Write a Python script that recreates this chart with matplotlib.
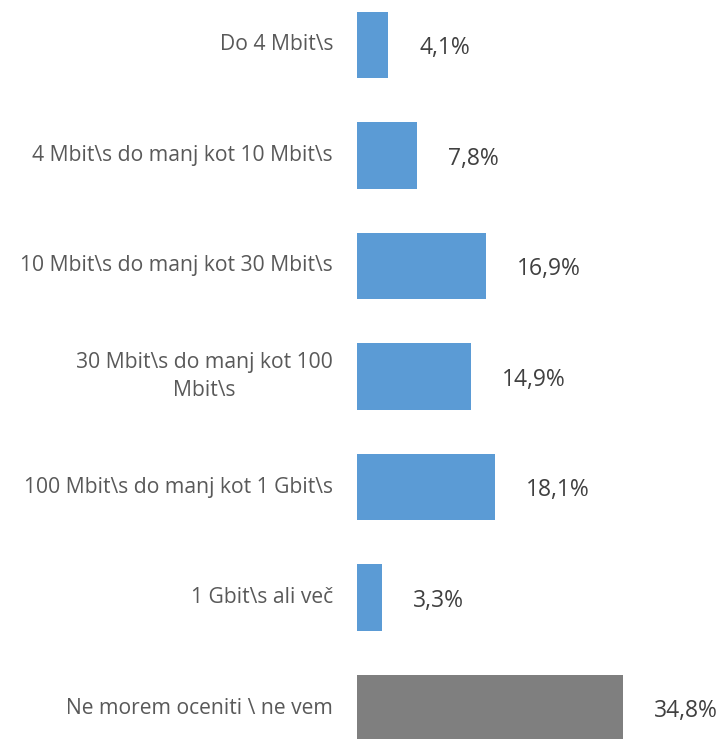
import matplotlib
matplotlib.use('Agg')
from matplotlib import pyplot as plt

categories = [
    'Do 4 Mbit\\s',
    '4 Mbit\\s do manj kot 10 Mbit\\s',
    '10 Mbit\\s do manj kot 30 Mbit\\s',
    '30 Mbit\\s do manj kot 100\nMbit\\s',
    '100 Mbit\\s do manj kot 1 Gbit\\s',
    '1 Gbit\\s ali več',
    'Ne morem oceniti \\ ne vem',
]
values = [4.1, 7.8, 16.9, 14.9, 18.1, 3.3, 34.8]
value_labels = ['4,1%', '7,8%', '16,9%', '14,9%', '18,1%', '3,3%', '34,8%']

blue = '#5B9BD5'
grey = '#7F7F7F'
colors = [blue] * 6 + [grey]

plt.rcParams['font.family'] = ['Open Sans', 'DejaVu Sans']

W, H = 724, 739
fig = plt.figure(figsize=(W / 100, H / 100), dpi=100)
x0 = 357
ax = fig.add_axes([x0 / W, 0, (W - x0) / W, 1])

ys = list(range(len(values)))
ax.barh(ys, values, height=0.6, color=colors)

# pixel scale -> data limits
px_per_pct = (623 - x0) / 34.8
ax.set_xlim(0, (W - x0) / px_per_pct)
slot = 110.5
ax.set_ylim((H - 45) / slot, -45 / slot)

for y, v, lab in zip(ys, values, value_labels):
    ax.annotate(lab, (v, y), xytext=(31 * 0.72, -2.5), textcoords='offset points',
                ha='left', va='center', fontsize=16.5, color='#404040')

for y, cat in zip(ys, categories):
    ax.annotate(cat, (0, y), xytext=(-24 * 0.72, 0), textcoords='offset points',
                ha='right', va='center', multialignment='center',
                fontsize=15.2, color='#595959', linespacing=1.4)

ax.axis('off')
fig.savefig('out.png', dpi=100)
